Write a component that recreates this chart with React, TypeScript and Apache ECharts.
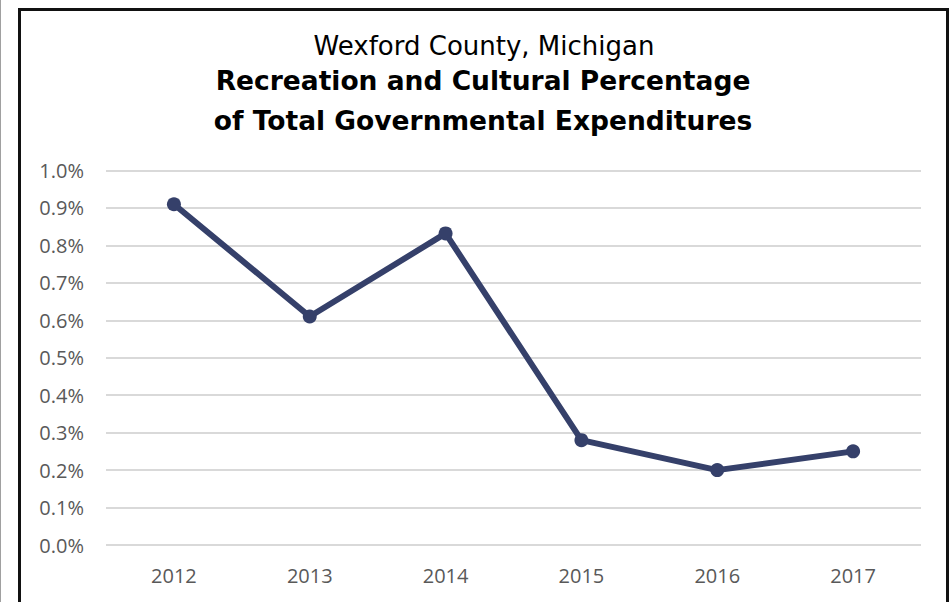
import React, { useEffect, useRef } from "react";
import * as echarts from "echarts";

const years = ["2012", "2013", "2014", "2015", "2016", "2017"];
const recreationPct = [0.91, 0.61, 0.832, 0.28, 0.2, 0.25];
const titleLines = [
  "Wexford County, Michigan",
  "Recreation and Cultural Percentage",
  "of Total Governmental Expenditures",
];

const FONT = "'Open Sans', 'Noto Sans', sans-serif";
const TFONT = "'DejaVu Sans', sans-serif";

export default function App() {
  const ref = useRef<HTMLDivElement>(null);
  useEffect(() => {
    if (!ref.current) return;
    const chart = echarts.init(ref.current, undefined, { renderer: "svg" });
    chart.setOption({
      animation: false,
      backgroundColor: "transparent",
      graphic: [
        {
          type: "text",
          x: 484,
          y: 33,
          style: { text: titleLines[0], font: `400 26px ${TFONT}`, fill: "#000", textAlign: "center", textVerticalAlign: "top" },
        },
        {
          type: "text",
          x: 483,
          y: 67,
          style: { text: titleLines[1], font: `700 26.5px ${TFONT}`, fill: "#000", textAlign: "center", textVerticalAlign: "top" },
        },
        {
          type: "text",
          x: 483,
          y: 107,
          style: { text: titleLines[2], font: `700 26.5px ${TFONT}`, fill: "#000", textAlign: "center", textVerticalAlign: "top" },
        },
      ],
      grid: { left: 106, right: 31, top: 170.5, height: 374.5, containLabel: false },
      xAxis: {
        type: "category",
        data: years,
        boundaryGap: true,
        axisLine: { show: false },
        axisTick: { show: false },
        axisLabel: { color: "#595959", fontSize: 20, fontFamily: FONT, margin: 20 },
      },
      yAxis: {
        type: "value",
        min: 0,
        max: 1.0,
        interval: 0.1,
        axisLine: { show: false },
        axisTick: { show: false },
        splitLine: { lineStyle: { color: "#d9d9d9", width: 2 } },
        axisLabel: {
          color: "#595959",
          fontSize: 20,
          fontFamily: FONT,
          margin: 22,
          formatter: (v: number) => v.toFixed(1) + "%",
        },
      },
      series: [
        {
          type: "line",
          data: recreationPct,
          lineStyle: { color: "#35406a", width: 6 },
          itemStyle: { color: "#35406a" },
          symbol: "circle",
          symbolSize: 14,
        },
      ],
    });
    return () => chart.dispose();
  }, []);

  return (
    <div style={{ position: "fixed", left: 0, top: 0, width: 952, height: 602, overflow: "hidden", background: "#fff" }}>
      <div style={{ position: "absolute", left: 0, top: 0, width: 1, height: 602, background: "#a0a0a0" }} />
      <div
        style={{
          position: "absolute",
          left: 18,
          top: 8,
          width: 931,
          height: 640,
          border: "3px solid #111",
          boxSizing: "border-box",
        }}
      />
      <div ref={ref} style={{ position: "absolute", left: 0, top: 0, width: 952, height: 602 }} />
    </div>
  );
}
